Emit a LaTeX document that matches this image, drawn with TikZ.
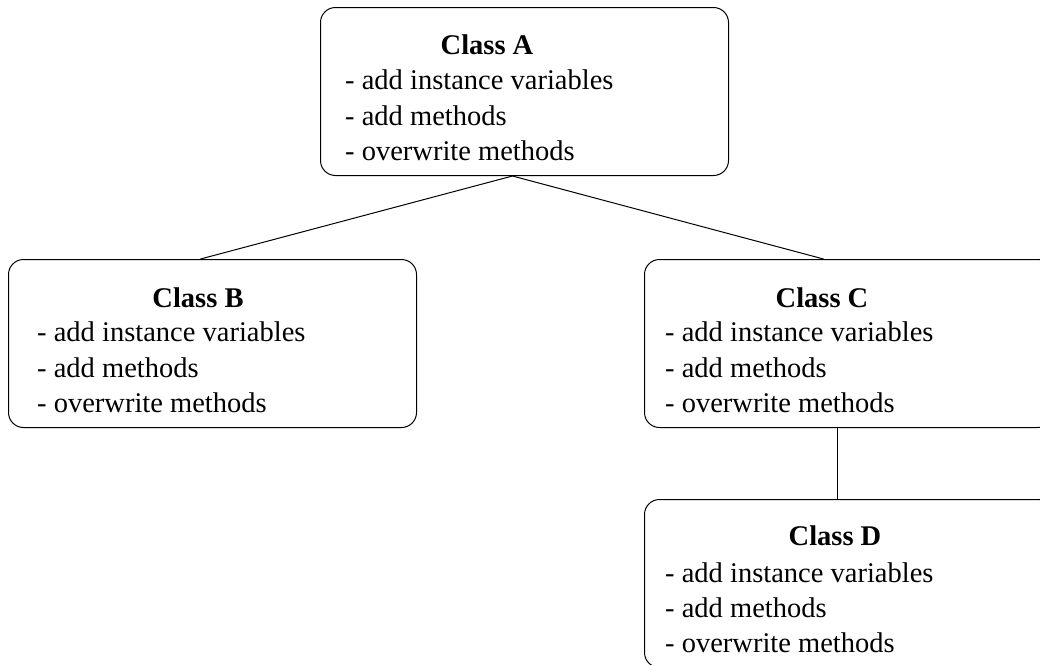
\documentclass[tikz,border=0pt]{standalone}
\usepackage{fontspec}
\setmainfont{Liberation Serif}
\tikzset{
  classbox/.style={draw=black, line width=1pt, rounded corners=15pt, minimum width=408pt, minimum height=168pt, inner sep=0pt, anchor=north west},
  title/.style={font=\fontsize{28.5}{34}\selectfont\bfseries, anchor=base, inner sep=0pt},
  item/.style={font=\fontsize{28.5}{34}\selectfont, anchor=base west, inner sep=0pt},
  link/.style={draw=black, line width=1pt}
}
\begin{document}
\begin{tikzpicture}[x=1pt,y=1pt]
\useasboundingbox (0,0) rectangle (1040,-664);
% boxes
\node[classbox] (A) at (320,-7) {};
\node[classbox] (B) at (8,-259) {};
\node[classbox] (C) at (644,-259) {};
\node[classbox] (D) at (644,-499) {};
% connector points on the box edges
\coordinate (Aout) at ([xshift=-12pt]A.south);
\coordinate (Bin) at ([xshift=-12pt]B.north);
\coordinate (Cin) at ([xshift=-25pt]C.north);
\coordinate (Cout) at ([xshift=-11pt]C.south);
\coordinate (Din) at ([xshift=-11pt]D.north);
\draw[link] (Aout) -- (Bin);
\draw[link] (Aout) -- (Cin);
\draw[link] (Cout) -- (Din);
% Class A
\node[title] (At) at (487,-54) {Class A};
\node[item] (A1) at (345,-89) {- add instance variables};
\node[item] (A2) at (345,-125) {- add methods};
\node[item] (A3) at (345,-160) {- overwrite methods};
% Class B
\node[title] (Bt) at (198,-307) {Class B};
\node[item] (B1) at (37,-341) {- add instance variables};
\node[item] (B2) at (37,-377) {- add methods};
\node[item] (B3) at (37,-412) {- overwrite methods};
% Class C
\node[title] (Ct) at (822,-307) {Class C};
\node[item] (C1) at (665,-341) {- add instance variables};
\node[item] (C2) at (665,-377) {- add methods};
\node[item] (C3) at (665,-412) {- overwrite methods};
% Class D
\node[title] (Dt) at (835,-545) {Class D};
\node[item] (D1) at (665,-582) {- add instance variables};
\node[item] (D2) at (665,-617) {- add methods};
\node[item] (D3) at (665,-652) {- overwrite methods};
\end{tikzpicture}
\end{document}
